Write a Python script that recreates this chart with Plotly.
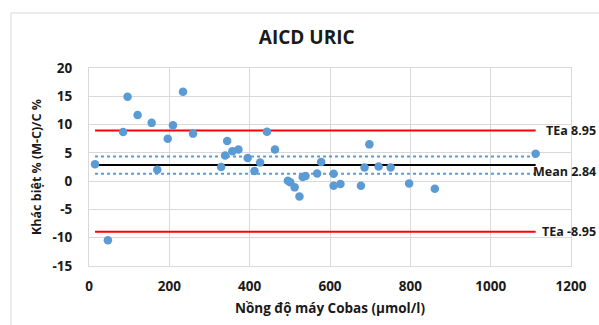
import plotly.graph_objects as go

# Data
cobas = [15, 47, 85, 96, 121, 156, 170, 196, 209, 234, 259, 329, 339, 344, 357, 372,
         395, 412, 426, 443, 463, 495, 501, 512, 524, 532, 539, 568, 578, 609, 609,
         626, 677, 686, 698, 721, 751, 797, 861, 1112]
diff_pct = [3.0, -10.45, 8.7, 14.9, 11.7, 10.3, 2.0, 7.5, 9.9, 15.8, 8.4, 2.5, 4.55,
            7.1, 5.3, 5.6, 4.1, 1.8, 3.3, 8.75, 5.6, 0.05, -0.2, -1.1, -2.7, 0.75, 0.9,
            1.35, 3.4, 1.3, -0.8, -0.5, -0.8, 2.4, 6.5, 2.6, 2.4, -0.4, -1.35, 4.85]
tea_upper = 8.95
tea_lower = -8.95
mean_val = 2.84
ci_upper = 4.36
ci_lower = 1.32

x_ticks = [0, 200, 400, 600, 800, 1000, 1200]
y_ticks = [-15, -10, -5, 0, 5, 10, 15, 20]

FONT = "Open Sans"
TXT = "#1a1a1a"
BLUE = "#5B9BD5"
GRID = "#D9D9D9"

xs = [min(cobas), max(cobas)]

fig = go.Figure()

def hline(val, color, width, dash="solid"):
    fig.add_trace(go.Scatter(x=xs, y=[val, val], mode="lines",
                             line=dict(color=color, width=width, dash=dash),
                             hoverinfo="skip", showlegend=False))

hline(ci_upper, BLUE, 2, "dot")
hline(ci_lower, BLUE, 2, "dot")
hline(tea_upper, "#FF0000", 2)
hline(tea_lower, "#FF0000", 2)
hline(mean_val, "#000000", 2)

fig.add_trace(go.Scatter(x=cobas, y=diff_pct, mode="markers",
                         marker=dict(color=BLUE, size=8.5, line=dict(width=0)),
                         showlegend=False))

lab_font = dict(family=FONT, size=12.5, color=TXT, weight="bold")
fig.add_annotation(x=1.056, xref="paper", y=tea_upper, yref="y", text="TEa 8.95",
                   showarrow=False, xanchor="right", yanchor="middle", font=lab_font)
fig.add_annotation(x=1.056, xref="paper", y=mean_val - 1.05, yref="y", text="Mean 2.84",
                   showarrow=False, xanchor="right", yanchor="middle", font=lab_font)
fig.add_annotation(x=1.056, xref="paper", y=tea_lower, yref="y", text="TEa -8.95",
                   showarrow=False, xanchor="right", yanchor="middle", font=lab_font)

# outer chart border
fig.add_shape(type="rect", xref="paper", yref="paper", x0=-0.1618, y0=-0.5, x1=1.3, y1=1.278,
              line=dict(color=GRID, width=1), fillcolor="rgba(0,0,0,0)", layer="below")

fig.update_layout(
    width=599, height=325,
    margin=dict(l=89, r=28, t=68, b=59),
    paper_bgcolor="white", plot_bgcolor="white",
    title=dict(text="<b>AICD URIC</b>", x=0.512, xref="container", xanchor="center",
               y=1 - 37/325, yref="container", yanchor="middle",
               font=dict(family=FONT, size=19, color=TXT)),
    xaxis=dict(range=[0, 1200], tickvals=x_ticks, ticktext=[str(v) for v in x_ticks],
               showgrid=True, gridcolor=GRID, gridwidth=1, zeroline=False,
               showline=True, linecolor=GRID, linewidth=1, mirror=True, ticks="",
               ticklabelstandoff=8,
               tickfont=dict(family=FONT, size=13.5, color=TXT, weight="bold"),
               title=dict(text="<b>Nồng độ máy Cobas (µmol/l)</b>", standoff=9,
                          font=dict(family=FONT, size=13.5, color=TXT))),
    yaxis=dict(range=[-15, 20], tickvals=y_ticks, ticktext=[str(v) for v in y_ticks],
               showgrid=True, gridcolor=GRID, gridwidth=1, zeroline=False,
               showline=True, linecolor=GRID, linewidth=1, mirror=True, ticks="",
               ticklabelstandoff=13,
               tickfont=dict(family=FONT, size=13.5, color=TXT, weight="bold"),
               title=dict(text="<b>Khác biệt % (M-C)/C %</b>", standoff=8,
                          font=dict(family=FONT, size=12.5, color=TXT))),
)

fig.write_html("out.html")
